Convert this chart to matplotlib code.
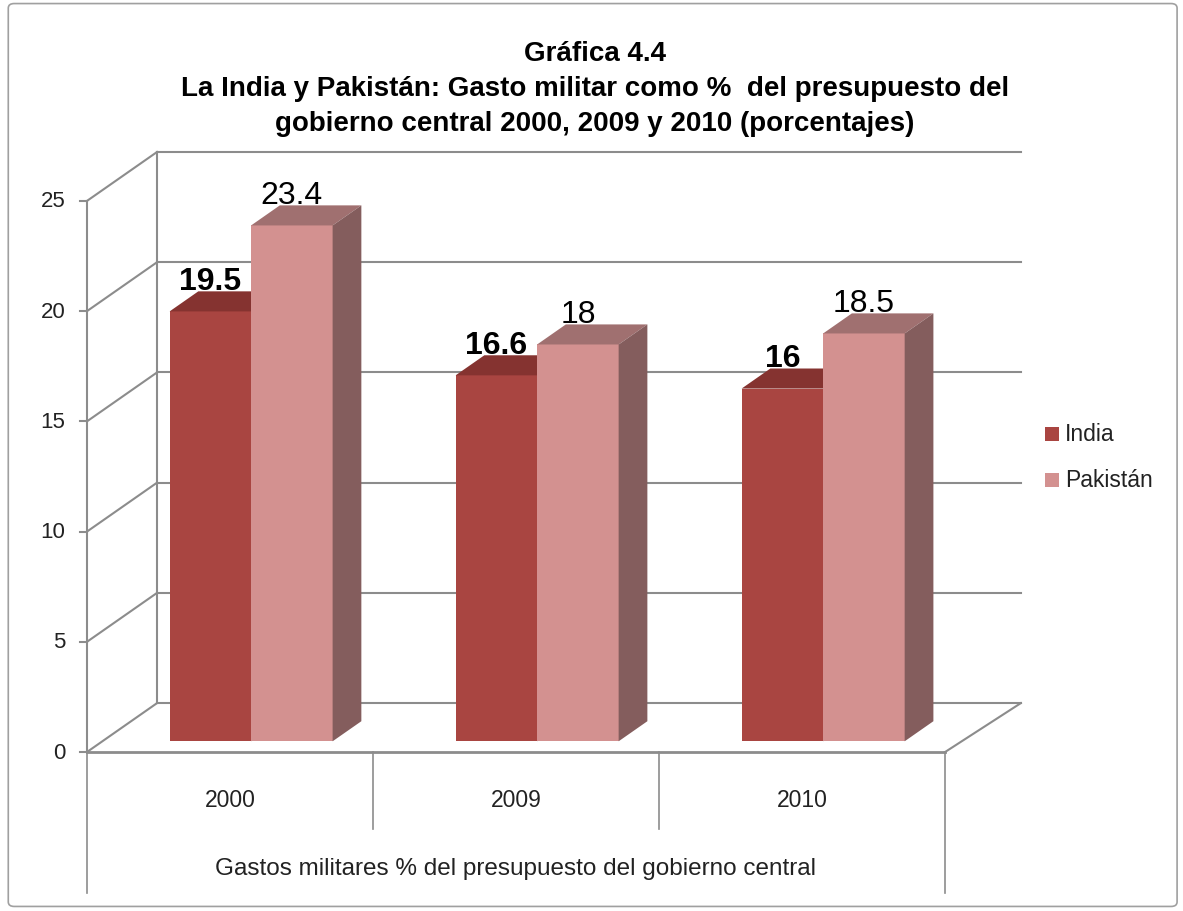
import matplotlib.pyplot as plt
from matplotlib.patches import Polygon, FancyBboxPatch
import numpy as np

# data
years = ['2000', '2009', '2010']
india = [19.5, 16.6, 16.0]
pakistan = [23.4, 18.0, 18.5]
india_labels = ['19.5', '16.6', '16']
pak_labels = ['23.4', '18', '18.5']
yticks = [0, 5, 10, 15, 20, 25]

title = ('Gráfica 4.4\nLa India y Pakistán: Gasto militar como %  del presupuesto del\n'
         'gobierno central 2000, 2009 y 2010 (porcentajes)')
xlabel = 'Gastos militares % del presupuesto del gobierno central'

# pseudo 3d: depth vector in (category, value) units
DX, DY = 0.245, 2.22
D0, D1 = 0.22, 0.63   # bar front / back depth fractions
BW = 0.285            # bar width
CENTER = 0.52

grid_c = '#8c8c8c'
india_c = ['#a94541', '#853330', '#6e2a28']
pak_c = ['#d39190', '#a07070', '#845d5d']

fig = plt.figure(figsize=(11.83, 9.12), dpi=100)
ax = fig.add_axes([0, 0, 1, 1])
ax.set_xlim(-0.304, 3.832)
ax.set_ylim(-7.21, 34.16)
ax.axis('off')

# outer border
fig.patches.append(FancyBboxPatch((0.007, 0.005), 0.988, 0.99, boxstyle='round,pad=0,rounding_size=0.005',
                                  transform=fig.transFigure, fill=False, ec='#a0a0a0', lw=1.2))


def P(x, v, d):
    return (x + d * DX, v + d * DY)


# back wall gridlines and side wall diagonals
for t in yticks:
    x0, y0 = P(0, t, 1)
    x1, y1 = P(3, t, 1)
    ax.plot([x0, x1 + 0.02], [y0, y1], color=grid_c, lw=1.5, zorder=1)
    ax.plot([0, x0], [t, y0], color=grid_c, lw=1.5, zorder=1)
    ax.plot([-0.025, 0], [t, t], color=grid_c, lw=1.5, zorder=1)
    ax.text(-0.075, t, str(t), ha='right', va='center', fontsize=16,
            family='Liberation Sans', color='#222222')

# back wall left edge and front axis
bx, by = P(0, 0, 1)
ax.plot([bx, bx], [by, 25 + DY], color=grid_c, lw=1.5, zorder=1)
ax.plot([0, 0], [0, 25], color=grid_c, lw=1.5, zorder=1)

# floor
ax.plot([0, 3], [0, 0], color=grid_c, lw=2, zorder=1)
fx, fy = P(3, 0, 1)
ax.plot([3, fx + 0.02], [0, fy], color=grid_c, lw=1.5, zorder=1)

# category dividers and labels below the floor
for i in range(4):
    bottom = -6.4 if i in (0, 3) else -3.5
    ax.plot([i, i], [0, bottom], color=grid_c, lw=1.2, zorder=1)
for i, y in enumerate(years):
    ax.text(i + 0.5, -2.15, y, ha='center', va='center', fontsize=16.5,
            family='Liberation Sans', color='#222222')
ax.text(1.5, -5.25, xlabel, ha='center', va='center', fontsize=17.5,
        family='Liberation Sans', color='#222222')


def bar3d(x0, x1, h, cols):
    fl = P(x0, 0, D0); fr = P(x1, 0, D0)
    tl = P(x0, h, D0); tr = P(x1, h, D0)
    btl = P(x0, h, D1); btr = P(x1, h, D1); bbr = P(x1, 0, D1)
    ax.add_patch(Polygon([fl, fr, tr, tl], closed=True, fc=cols[0], ec='none', zorder=3))
    ax.add_patch(Polygon([tl, tr, btr, btl], closed=True, fc=cols[1], ec='none', zorder=3))
    ax.add_patch(Polygon([fr, bbr, btr, tr], closed=True, fc=cols[2], ec='none', zorder=3))


for i in range(3):
    c = i + CENTER
    bar3d(c - BW, c, india[i], india_c)
    bar3d(c, c + BW, pakistan[i], pak_c)
    lx, ly = P(c - BW / 2, india[i], D1)
    ax.text(lx - DX * (D1 - D0), ly + 0.1, india_labels[i], ha='center', va='baseline',
            fontsize=23, fontweight='bold', family='Liberation Sans', zorder=5)
    lx, ly = P(c + BW / 2, pakistan[i], D1)
    ax.text(lx - DX * (D1 - D0), ly + 0.1, pak_labels[i], ha='center', va='baseline',
            fontsize=23, family='Liberation Sans', zorder=5)

# legend
for k, (name, col) in enumerate([('India', india_c[0]), ('Pakistán', pak_c[0])]):
    yy = 1 - (435 + 46 * k) / 912
    fig.patches.append(plt.Rectangle((1045 / 1183, yy - 7 / 912), 14 / 1183, 14 / 912,
                                     transform=fig.transFigure, fc=col, ec='none'))
    fig.text(1065 / 1183, yy, name, ha='left', va='center', fontsize=16.5,
             family='Liberation Sans', color='#222222')

fig.text(0.503, 1 - 89 / 912, title, ha='center', va='center', fontsize=20, fontweight='bold',
         family='Liberation Sans', linespacing=1.45)

fig.savefig('out.png', dpi=100)
